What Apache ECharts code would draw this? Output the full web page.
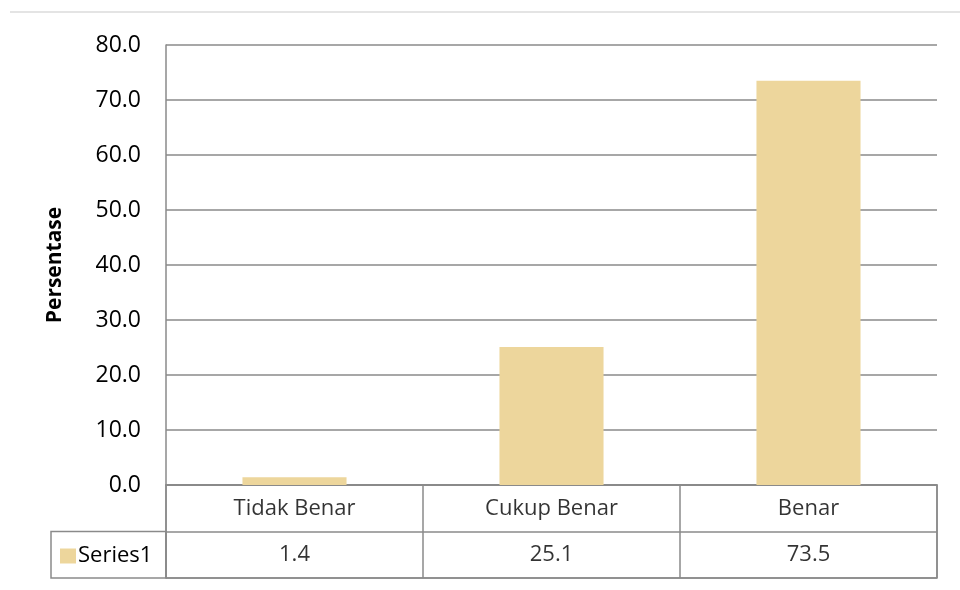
<!DOCTYPE html>
<html>
<head>
<meta charset="utf-8">
<script src="https://cdn.jsdelivr.net/npm/echarts@6/dist/echarts.min.js"></script>
<style>html,body{margin:0;padding:0;background:#fff;}#c{width:960px;height:590px;}</style>
</head>
<body>
<div id="c"></div>
<script>
var categories = ['Tidak Benar', 'Cukup Benar', 'Benar'];
var values = [1.4, 25.1, 73.5];
var seriesName = 'Series1';
var yTicks = { min: 0, max: 80, interval: 10 };
var tableRows = ['values', 'categories'];

var gridColor = '#8a8a8a';
var barColor = '#EDD69C';
var font = '"Open Sans", "Noto Sans", sans-serif';

var chart = echarts.init(document.getElementById('c'));
var L = 166, R = 937, T = 45, B = 485, TB = 578, HL = 51;
var MID = (B + TB) / 2;

var catCells = categories.map(function (c) { return { value: [c, 'categories'], label: { formatter: c } }; });
var valCells = categories.map(function (c, i) { return { value: [c, 'values'], label: { formatter: values[i].toFixed(1) } }; });

chart.setOption({
  animation: false,
  backgroundColor: '#fff',
  textStyle: { fontFamily: font },
  legend: {
    data: [seriesName],
    left: 60, top: 545, padding: 0,
    itemWidth: 16, itemHeight: 15, itemGap: 4,
    icon: 'rect',
    textStyle: { fontSize: 22, color: '#000', fontFamily: font, padding: [0, 0, 0, -3] },
    selectedMode: false
  },
  grid: [
    { left: L, right: 960 - R, top: T, bottom: 590 - B },
    { left: L, right: 960 - R, top: B, bottom: 590 - TB, show: true, borderColor: gridColor, borderWidth: 1.5, backgroundColor: 'transparent' }
  ],
  xAxis: [
    { type: 'category', data: categories, gridIndex: 0,
      axisLine: { show: true, lineStyle: { color: gridColor, width: 1.5 } },
      axisTick: { show: false }, axisLabel: { show: false } },
    { type: 'category', data: categories, gridIndex: 1,
      axisLine: { show: false }, axisTick: { show: false }, axisLabel: { show: false },
      splitLine: { show: true, interval: 0, lineStyle: { color: gridColor, width: 1.5 } } }
  ],
  yAxis: [
    { type: 'value', gridIndex: 0, min: yTicks.min, max: yTicks.max, interval: yTicks.interval,
      name: 'Persentase', nameLocation: 'middle', nameGap: 100, nameRotate: 90,
      nameTextStyle: { fontSize: 21, fontWeight: 'bold', color: '#000', fontFamily: font },
      axisLine: { show: true, lineStyle: { color: gridColor, width: 1.5 } },
      axisTick: { show: false },
      axisLabel: { fontSize: 23, color: '#000', margin: 25, fontFamily: font,
        formatter: function (v) { return v.toFixed(1); } },
      splitLine: { show: true, lineStyle: { color: gridColor, width: 1.5 } } },
    { type: 'category', data: tableRows, gridIndex: 1,
      axisLine: { show: false }, axisTick: { show: false }, axisLabel: { show: false },
      splitLine: { show: true, interval: 0, lineStyle: { color: gridColor, width: 1.5 } } }
  ],
  graphic: [
    { type: 'line', shape: { x1: 10, y1: 12, x2: 960, y2: 12 }, style: { stroke: '#e4e4e4', lineWidth: 2 }, silent: true },
    { type: 'rect', shape: { x: HL, y: MID, width: L - HL, height: TB - MID },
      style: { fill: 'none', stroke: gridColor, lineWidth: 1.5 }, silent: true }
  ],
  series: [
    { name: seriesName, type: 'bar', data: values, xAxisIndex: 0, yAxisIndex: 0,
      barWidth: '40.5%', itemStyle: { color: barColor } },
    { type: 'scatter', xAxisIndex: 1, yAxisIndex: 1, symbolSize: 0, silent: true,
      data: catCells.concat(valCells),
      label: { show: true, position: 'inside', fontSize: 22, color: '#000', fontFamily: font } }
  ]
});
</script>
</body>
</html>
